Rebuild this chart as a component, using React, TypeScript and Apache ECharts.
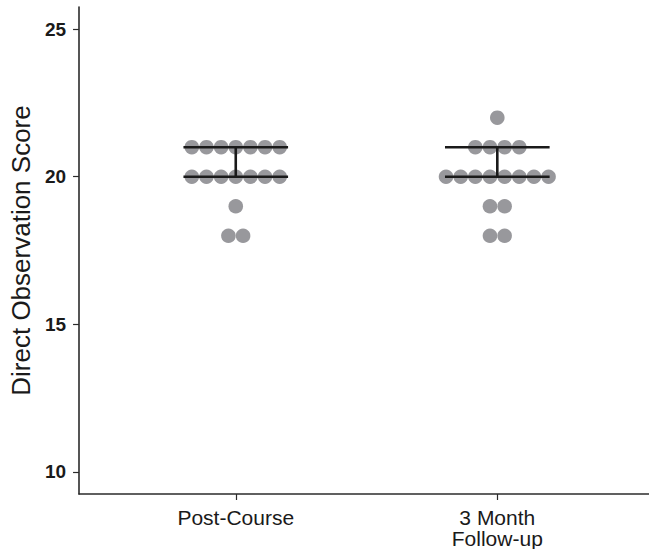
import React, { useEffect, useRef } from "react";
import * as echarts from "echarts";

const categories = ["Post-Course", "3 Month\nFollow-up"];
const postCourseScores = [21, 21, 21, 21, 21, 21, 21, 20, 20, 20, 20, 20, 20, 20, 19, 18, 18];
const followUpScores = [22, 21, 21, 21, 21, 20, 20, 20, 20, 20, 20, 20, 20, 19, 19, 18, 18];
const groupScores = [postCourseScores, followUpScores];
const q1Values = [20, 20];
const q3Values = [21, 21];
const yTicks = [10, 15, 20, 25];

const DOT_STEP = 0.056; // x-offset between stacked dots (data units)
const BAR_HALF = 0.2;

function buildDots(): number[][] {
  const pts: number[][] = [];
  groupScores.forEach((scores, gi) => {
    const counts = new Map<number, number>();
    scores.forEach((s) => counts.set(s, (counts.get(s) || 0) + 1));
    counts.forEach((n, s) => {
      for (let k = 0; k < n; k++) {
        pts.push([gi + 1 + (k - (n - 1) / 2) * DOT_STEP, s]);
      }
    });
  });
  return pts;
}

export default function App() {
  const ref = useRef<HTMLDivElement>(null);
  useEffect(() => {
    if (!ref.current) return;
    const chart = echarts.init(ref.current, undefined, { renderer: "svg" });
    const font = "'Liberation Sans', Arial, sans-serif";
    const axisColor = "#2b2b2b";
    chart.setOption({
      animation: false,
      backgroundColor: "#ffffff",
      grid: { left: 78, right: 0, top: 7, bottom: 55 },
      xAxis: {
        type: "value",
        min: 0.4008,
        max: 2.58,
        splitLine: { show: false },
        axisLine: { show: true, lineStyle: { color: axisColor, width: 1.6 } },
        axisTick: { show: true, length: 6, customValues: [1, 2], lineStyle: { color: axisColor, width: 1.2 } },
        axisLabel: {
          customValues: [1, 2],
          formatter: (v: number) => categories[Math.round(v) - 1] || "",
          color: "#1a1a1a",
          fontFamily: font,
          fontSize: 21,
          lineHeight: 21,
          margin: 13,
        },
      },
      yAxis: {
        type: "value",
        min: 9.25,
        max: 25.75,
        name: "Direct Observation Score",
        nameLocation: "middle",
        nameGap: 45,
        nameTextStyle: { color: "#1a1a1a", fontFamily: font, fontSize: 26 },
        splitLine: { show: false },
        axisLine: { show: true, lineStyle: { color: axisColor, width: 1.6 } },
        axisTick: { show: true, length: 6, customValues: yTicks, lineStyle: { color: axisColor, width: 1.2 } },
        axisLabel: {
          customValues: yTicks,
          color: "#1a1a1a",
          fontFamily: font,
          fontSize: 19,
          fontWeight: "bold",
          margin: 13,
        },
      },
      series: [
        {
          type: "scatter",
          data: buildDots(),
          symbol: "circle",
          symbolSize: 14.6,
          itemStyle: { color: "#98989c", opacity: 1 },
          z: 2,
        },
        {
          type: "custom",
          z: 3,
          data: q1Values.map((q1, i) => [i + 1, q1, q3Values[i]]),
          renderItem: (params: any, api: any) => {
            const x = api.value(0);
            const lo = api.value(1);
            const hi = api.value(2);
            const a = api.coord([x - BAR_HALF, lo]);
            const b = api.coord([x + BAR_HALF, lo]);
            const c = api.coord([x - BAR_HALF, hi]);
            const d = api.coord([x + BAR_HALF, hi]);
            const m1 = api.coord([x, lo]);
            const m2 = api.coord([x, hi]);
            const style = { stroke: "#1a1a1a", lineWidth: 2.6 };
            return {
              type: "group",
              children: [
                { type: "line", shape: { x1: a[0], y1: a[1], x2: b[0], y2: b[1] }, style },
                { type: "line", shape: { x1: c[0], y1: c[1], x2: d[0], y2: d[1] }, style },
                { type: "line", shape: { x1: m1[0], y1: m1[1], x2: m2[0], y2: m2[1] }, style },
              ],
            };
          },
        },
      ],
    });
    return () => chart.dispose();
  }, []);
  return (
    <div
      ref={ref}
      style={{ position: "absolute", left: 0, top: 0, width: 649, height: 549 }}
    />
  );
}
